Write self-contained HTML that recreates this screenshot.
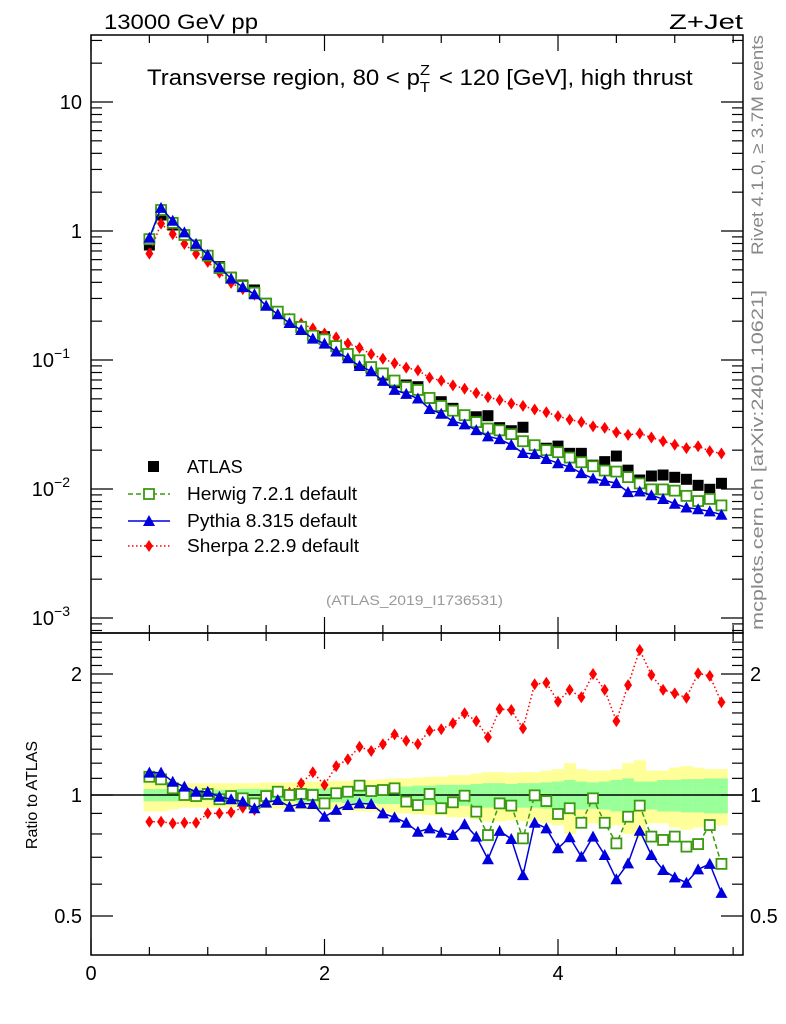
<!DOCTYPE html>
<html><head><meta charset="utf-8">
<style>
html,body{margin:0;padding:0;background:#fff;}
svg{display:block;font-family:"Liberation Sans",Arial,sans-serif;}
</style></head>
<body>
<svg id="chart" width="786" height="1024" viewBox="0 0 786 1024" xmlns="http://www.w3.org/2000/svg">
<g id="bands"></g>
<g id="series"></g>
<g id="axes"></g>
<text x="104" y="29" font-size="21" textLength="154" lengthAdjust="spacingAndGlyphs">13000 GeV pp</text>
<text x="669" y="29" font-size="21" textLength="74" lengthAdjust="spacingAndGlyphs">Z+Jet</text>
<text transform="translate(147,85) scale(1.09,1)" x="0" y="0" font-size="22">Transverse region, 80 &lt; p<tspan font-size="15" dy="7">T</tspan><tspan font-size="15" dx="-9" dy="-17">Z</tspan><tspan dy="10" dx="2"> &lt; 120 [GeV], high thrust</tspan></text>
<text x="326" y="605" font-size="14" fill="#999" textLength="177" lengthAdjust="spacingAndGlyphs">(ATLAS_2019_I1736531)</text>
<text transform="translate(763,255) rotate(-90)" font-size="17" fill="#888" textLength="220" lengthAdjust="spacingAndGlyphs">Rivet 4.1.0, ≥ 3.7M events</text>
<text transform="translate(763,630) rotate(-90)" font-size="17" fill="#888" textLength="340" lengthAdjust="spacingAndGlyphs">mcplots.cern.ch [arXiv:2401.10621]</text>
<text transform="translate(37,795) rotate(-90)" font-size="16" text-anchor="middle">Ratio to ATLAS</text>
<g id="legend">
  <g><rect x="148" y="461" width="11" height="11" fill="#000"/><text x="187" y="473" font-size="18">ATLAS</text></g>
  <g><line x1="128" y1="494" x2="170" y2="494" stroke="#3a9a10" stroke-width="1.5" stroke-dasharray="5,3"/><rect x="144" y="489" width="10" height="10" fill="#fff" stroke="#3a9a10" stroke-width="1.8"/><text x="187" y="500" font-size="18" textLength="170" lengthAdjust="spacingAndGlyphs">Herwig 7.2.1 default</text></g>
  <g><line x1="128" y1="521" x2="170" y2="521" stroke="#0000dd" stroke-width="1.5"/><path d="M149,515 L155,526 L143,526 Z" fill="#0000dd"/><text x="187" y="527" font-size="18" textLength="170" lengthAdjust="spacingAndGlyphs">Pythia 8.315 default</text></g>
  <g><line x1="128" y1="546" x2="170" y2="546" stroke="#ff0000" stroke-width="1.5" stroke-dasharray="1.5,2.5"/><path d="M149,540 L153,546 L149,552 L145,546 Z" fill="#ff0000"/><text x="187" y="552" font-size="18" textLength="172" lengthAdjust="spacingAndGlyphs">Sherpa 2.2.9 default</text></g>
</g>
</svg>
<script>
const xCenters=[];for(let k=0;k<50;k++)xCenters.push(+(0.5+0.1*k).toFixed(2));
const atlas=[0.779,1.33,1.113,0.931,0.779,0.640,0.529,0.438,0.381,0.349,0.275,0.2326,0.2068,0.1793,0.1543,0.1516,0.1268,0.1093,0.0943,0.0862,0.0765,0.0667,0.0640,0.0621,0.0505,0.0475,0.0422,0.0375,0.0363,0.0370,0.0299,0.0283,0.0301,0.0219,0.0207,0.0215,0.0189,0.0189,0.0153,0.0163,0.0180,0.0140,0.01174,0.01261,0.01284,0.01232,0.01189,0.01068,0.00995,0.01107];
const ratioHerwig=[1.11,1.094,1.039,1.0,0.994,1.006,0.976,0.994,0.981,0.953,0.994,1.019,1.0,1.006,1.0,0.953,1.01,1.019,1.055,1.023,1.029,1.039,0.963,0.944,1.006,0.927,0.959,0.996,0.909,0.795,0.953,0.941,0.78,0.998,0.966,0.897,0.927,0.853,0.981,0.853,0.758,0.883,0.941,0.788,0.773,0.788,0.744,0.755,0.842,0.674];
const ratioPythia=[1.137,1.137,1.079,1.049,1.019,1.019,0.99,0.976,0.963,0.927,0.957,0.972,0.935,0.953,0.95,0.883,0.918,0.944,0.953,0.95,0.90,0.88,0.853,0.81,0.826,0.806,0.795,0.846,0.788,0.692,0.814,0.777,0.632,0.853,0.826,0.737,0.785,0.702,0.788,0.709,0.617,0.676,0.815,0.709,0.651,0.624,0.605,0.653,0.674,0.571];
const ratioSherpa=[0.858,0.858,0.85,0.853,0.853,0.90,0.90,0.905,0.93,0.918,0.972,1.013,1.013,1.069,1.139,1.059,1.18,1.227,1.318,1.287,1.337,1.415,1.364,1.339,1.445,1.457,1.508,1.597,1.527,1.392,1.636,1.627,1.465,1.886,1.902,1.707,1.826,1.75,2.0,1.826,1.527,1.877,2.295,1.989,1.826,1.79,1.745,2.007,1.978,1.701];
const statErr=[0.035,0.035,0.035,0.03,0.03,0.03,0.03,0.03,0.035,0.035,0.035,0.035,0.035,0.04,0.04,0.04,0.04,0.045,0.045,0.045,0.05,0.05,0.05,0.055,0.055,0.06,0.06,0.06,0.065,0.07,0.07,0.065,0.07,0.07,0.075,0.08,0.09,0.08,0.075,0.08,0.09,0.1,0.08,0.08,0.09,0.09,0.095,0.095,0.1,0.1];
const totErr=[0.09,0.09,0.08,0.07,0.07,0.07,0.07,0.07,0.07,0.07,0.075,0.075,0.075,0.08,0.08,0.08,0.085,0.085,0.09,0.09,0.095,0.1,0.1,0.105,0.11,0.11,0.12,0.12,0.13,0.14,0.14,0.135,0.14,0.14,0.15,0.16,0.2,0.16,0.15,0.15,0.16,0.2,0.22,0.15,0.15,0.17,0.18,0.17,0.16,0.16];
const mainTickLabels=["10","1","10","10","10"];

const NS="http://www.w3.org/2000/svg";
const L=91,R=743,MT=35,MB=633,RB=955;
const X=v=>L+v*116.75;
const YM=v=>231-129*Math.log10(v);
const YR=v=>795-402*Math.log10(v);
function mk(tag,attrs,parent){const e=document.createElementNS(NS,tag);for(const k in attrs)e.setAttribute(k,attrs[k]);parent.appendChild(e);return e;}
const bandsG=document.getElementById('bands'),serG=document.getElementById('series'),axG=document.getElementById('axes');

xCenters.forEach((xc,i)=>{
  const x0=X(xc-0.05),x1=X(xc+0.05);
  const y=mk('rect',{x:x0,y:YR(1+totErr[i]),width:x1-x0+0.5,height:YR(1-totErr[i])-YR(1+totErr[i]),fill:'#ffff99'},bandsG);
  
  
  const g=mk('rect',{x:x0,y:YR(1+statErr[i]),width:x1-x0+0.5,height:YR(1-statErr[i])-YR(1+statErr[i]),fill:'#99ff99'},bandsG);
  
  
});
const ref=mk('line',{x1:L,x2:R,y1:YR(1),y2:YR(1),stroke:'#000','stroke-width':1.5},bandsG);



function marker(kind,cx,cy,color,g){
  let e;
  if(kind==='sq'){e=mk('rect',{x:cx-5,y:cy-5,width:10,height:10,fill:'#fff',stroke:color,'stroke-width':1.8},g);}
  else if(kind==='tri'){e=mk('path',{d:`M${cx},${cy-6}L${cx+6},${cy+5}L${cx-6},${cy+5}Z`,fill:color},g);}
  else if(kind==='dia'){e=mk('path',{d:`M${cx},${cy-6}L${cx+4},${cy}L${cx},${cy+6}L${cx-4},${cy}Z`,fill:color},g);}
  else {e=mk('rect',{x:cx-5.5,y:cy-5.5,width:11,height:11,fill:color},g);}
  return e;
}
function drawSeries(name,ratio,color,dash,kind){
  const g=mk('g',{},serG);
  
  
  const ptsM=xCenters.map((x,i)=>[X(x),YM(atlas[i]*ratio[i])]);
  const ptsR=xCenters.map((x,i)=>[X(x),YR(ratio[i])]);
  [ptsM,ptsR].forEach((pts,j)=>{
    const pl=mk('polyline',{points:pts.map(p=>p.join(',')).join(' '),fill:'none',stroke:color,'stroke-width':1.5,'stroke-dasharray':dash},g);
    
    
    pts.forEach(p=>{const m=marker(kind,p[0],p[1],color,g);
      
      });
  });
}
const ag=mk('g',{},serG);


xCenters.forEach((x,i)=>{const m=marker('fill',X(x),YM(atlas[i]),'#000',ag);
  
  });
drawSeries('sherpa',ratioSherpa,'#ff0000','1.5,2.5','dia');
drawSeries('herwig',ratioHerwig,'#3a9a10','5,3','sq');
drawSeries('pythia',ratioPythia,'#0000dd','none','tri');

[[MT,MB],[MB,RB]].forEach(([t,b],k)=>{const r=mk('rect',{x:L,y:t,width:R-L,height:b-t,fill:'none',stroke:'#000','stroke-width':1.5},axG);
  
  });
function tick(x1,y1,x2,y2){const t=mk('line',{x1,y1,x2,y2,stroke:'#000','stroke-width':1.2},axG);
  
  }
for(let v=0;v<=5.5;v+=0.5){const x=X(v);if(x>R)break;const len=(v%2===0)?16:8;
  tick(x,MT,x,MT+len);tick(x,MB,x,MB-len);tick(x,MB,x,MB+len);tick(x,RB,x,RB-len);}
[0,2,4].forEach(v=>{const t=mk('text',{x:X(v),y:980,'font-size':20,'text-anchor':'middle'},axG);t.textContent=v;
  
  });
const dec=[1,0,-1,-2,-3];
dec.forEach((d,i)=>{const y=YM(Math.pow(10,d));tick(L,y,L+22,y);tick(R,y,R-22,y);
  const t=mk('text',{x:d<0?70:82,y:y+7,'font-size':20,'text-anchor':'end'},axG);t.textContent=mainTickLabels[i];
  if(d<0){const s=mk('tspan',{'font-size':14,dy:-9},t);s.textContent='−'+(-d);}
  
  });
for(let d=-4;d<=1;d++)for(let m=2;m<=9;m++){const y=YM(m*Math.pow(10,d));if(y<MT||y>MB)continue;tick(L,y,L+11,y);tick(R,y,R-11,y);}
[0.5,1,2].forEach(v=>{const y=YR(v);tick(L,y,L+22,y);tick(R,y,R-22,y);
  [[82,'end'],[750,'start']].forEach(([x,a])=>{const t=mk('text',{x,y:y+7,'font-size':20,'text-anchor':a},axG);t.textContent=v;
  
  });});
[0.6,0.7,0.8,0.9,1.1,1.2,1.3,1.4,1.5,1.6,1.7,1.8,1.9,2.1,2.2,2.3,2.4].forEach(v=>{const y=YR(v);if(y<MB)return;tick(L,y,L+11,y);tick(R,y,R-11,y);});
</script>
</body></html>
